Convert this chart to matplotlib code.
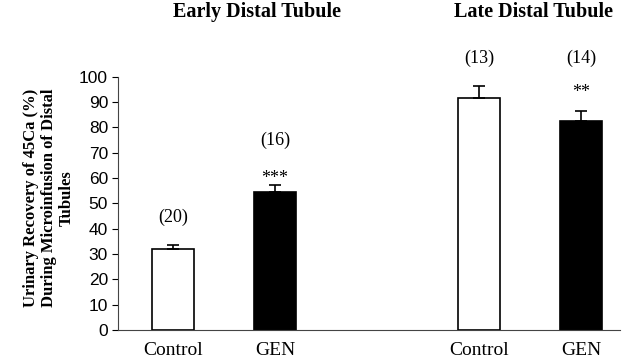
import matplotlib.pyplot as plt

groups = ["Early Distal Tubule", "Late Distal Tubule"]
labels = ["Control", "GEN", "Control", "GEN"]
means = [32, 54.5, 91.5, 82.5]
sems = [1.7, 2.6, 4.8, 4.0]
counts = ["(20)", "(16)", "(13)", "(14)"]
stars = ["", "***", "", "**"]

pos = [0, 1, 3, 4]
colors = ["white", "black", "white", "black"]

fig = plt.figure(figsize=(6.4, 3.59), dpi=100)
ax = fig.add_axes([0.184, 0.081, 0.785, 0.705])

ax.bar(pos, means, width=0.41, color=colors, edgecolor="black", linewidth=1.2)
ax.errorbar(pos, means, yerr=[[0] * 4, sems], fmt="none", ecolor="black",
            elinewidth=1.2, capsize=4, capthick=1.2)

# n counts and significance stars above bars
count_y = [44.5, 75, 107.5, 107.5]
star_y = [0, 60, 0, 94]
for p, c, cy in zip(pos, counts, count_y):
    ax.text(p, cy, c, ha="center", va="center", fontsize=13,
            family="Liberation Serif", clip_on=False)
for p, s, sy in zip(pos, stars, star_y):
    if s:
        ax.text(p, sy, s, ha="center", va="center", fontsize=13,
                family="Liberation Serif", clip_on=False)

ax.set_xlim(-0.54, 4.38)
ax.set_ylim(0, 100)
ax.set_yticks(range(0, 101, 10))
ax.set_xticks(pos)
ax.set_xticklabels(labels, family="Liberation Serif", fontsize=14)
ax.tick_params(axis="x", length=0, pad=9)
ax.tick_params(axis="y", direction="out", length=4, width=0.8, labelsize=12.5, pad=3)
for t in ax.get_yticklabels():
    t.set_family("Liberation Sans")
ax.spines["top"].set_visible(False)
ax.spines["right"].set_visible(False)
ax.spines["left"].set_color("#444444")
ax.spines["bottom"].set_color("#444444")

fig.text(49 / 640, 1 - 198 / 359,
         "Urinary Recovery of 45Ca (%)\nDuring Microinfusion of Distal\nTubules",
         rotation=90, ha="center", va="center", multialignment="center",
         family="Liberation Serif", fontweight="bold", fontsize=12,
         linespacing=1.15)

fig.text(257 / 640, 1 - 12 / 359, groups[0], ha="center", va="center",
         family="Liberation Serif", fontweight="bold", fontsize=14.5)
fig.text(533 / 640, 1 - 12 / 359, groups[1], ha="center", va="center",
         family="Liberation Serif", fontweight="bold", fontsize=14.5)

fig.savefig("out.png", dpi=100)
